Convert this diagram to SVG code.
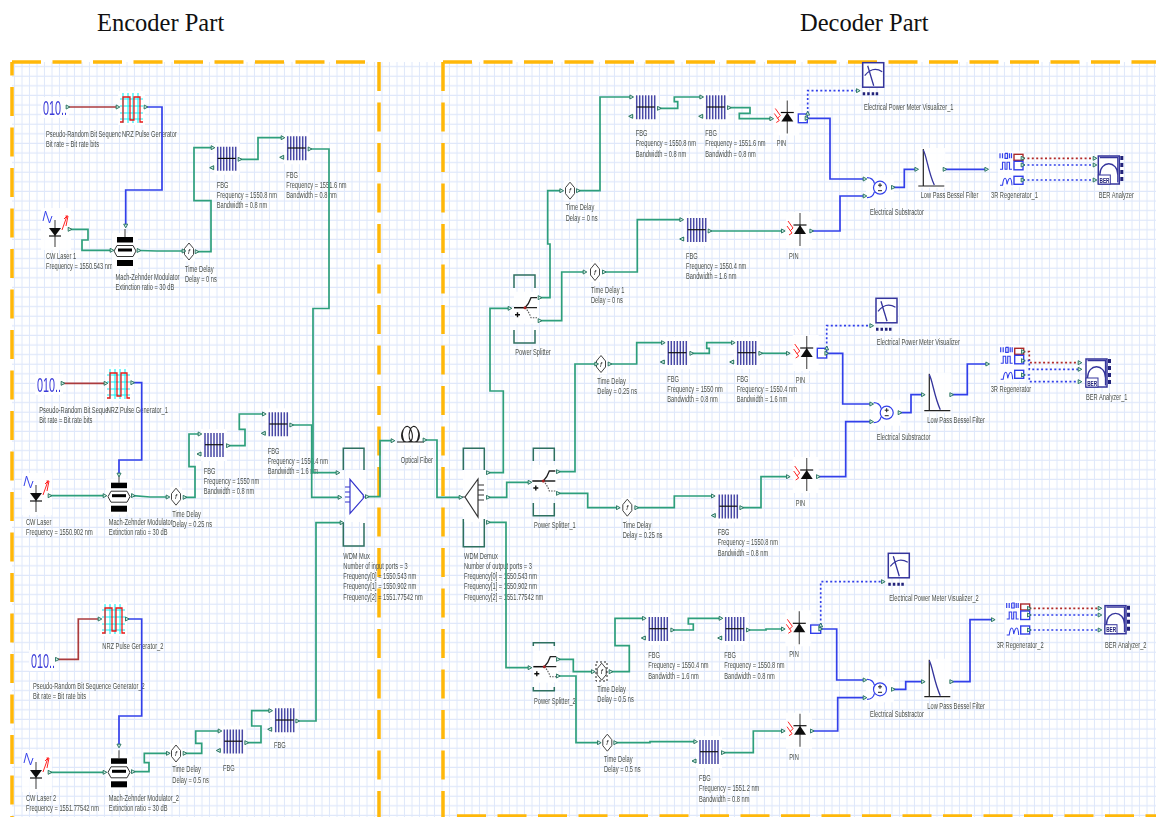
<svg xmlns="http://www.w3.org/2000/svg" width="1156" height="817" viewBox="0 0 1156 817">
<style>
.l{font:9.5px "Liberation Sans",Arial,sans-serif;fill:#4a4f4a}
.t{font:24.500px "Liberation Serif","Times New Roman",serif;fill:#111}
.c{fill:none;stroke-width:1.7;marker-start:url(#p);marker-end:url(#p)}
.g{stroke:#2f9f7c}.b{stroke:#3340ea}.r{stroke:#ab3a3c}
.bd{stroke:#3340ea;stroke-dasharray:2 2.4}.rd{stroke:#b22a2a;stroke-dasharray:2 2.4}
.f{fill:none;stroke:#ffb80a;stroke-width:3.5;stroke-dasharray:29 11.5}
.h{fill:#fff;opacity:.85}
.br{fill:none;stroke:#2f6f60;stroke-width:1.5}
.nv{fill:none;stroke:#34349c;stroke-width:1.3}
.box{fill:#fff;stroke:#3340ea;stroke-width:1.4}
</style>
<defs>
<pattern id="gr" width="7.5" height="9.6" patternUnits="userSpaceOnUse"><path d="M7 0V9.6M0 9H7.5" fill="none" stroke="#dfe8fa" stroke-width="1"/></pattern>
<filter id="soft" x="-2%" y="-2%" width="104%" height="104%"><feGaussianBlur stdDeviation="0.35"/></filter>
<marker id="p" viewBox="0 0 6 6" refX="3" refY="3" markerWidth="5.500" markerHeight="5.500" markerUnits="userSpaceOnUse" orient="auto"><path d="M1 .8L5 3L1 5.2Z" fill="#cfeee2" stroke="#23705c"/></marker>
<g id="fbg"><rect class="h" x="-4" y="-4" width="26" height="32"/><path d="M0 0V24M3 0V24M6 0V24M9 0V24M12 0V24M15 0V24M18 0V24" stroke="#4a4aa6" stroke-width="1.500"/><path d="M0 11.700H18" stroke="#111" stroke-width="1.200"/><path d="M-4 19L-8 21L-4 23Z" fill="#cfeee2" stroke="#23705c"/></g>
<g id="laser"><rect class="h" x="-14" y="-28" width="30" height="42"/><path d="M-12 -15L-9.500 -25L-5.500 -13L-3 -20" fill="none" stroke="#3340ea"/><path d="M0 -16V11" stroke="#666" stroke-width="1.300"/><path d="M-6 -8H6L0 0Z" fill="#111"/><path d="M-6 0H6" stroke="#111" stroke-width="1.200"/><path d="M7 -6L12 -20M11 -10L13 -20M12 -20L9 -17M13 -20L10.500 -20" fill="none" stroke="#f22" stroke-width="1"/></g>
<g id="mzm"><rect class="h" x="-13" y="-18" width="26" height="36"/><path d="M0 -22V-14" stroke="#666" stroke-width="1.300"/><rect x="-8" y="-14" width="16" height="5.500"/><path d="M-11 0L-8 -5.500H8L11 0L8 5.500H-8Z" fill="#fff" stroke="#333"/><rect x="-7" y="-2.500" width="14" height="3"/><rect x="-8" y="9" width="16" height="6"/></g>
<g id="delay"><rect class="h" x="-6" y="-10" width="12" height="20"/><path d="M0 -8.500L4.500 -3V3L0 8.500L-4.500 3V-3Z" fill="#fff" stroke="#444"/><text x="-1" y="2.500" style="font:italic 7px 'Liberation Sans',sans-serif;fill:#222">f</text></g>
<g id="prbs"><rect class="h" x="-2" y="-18" width="28" height="21"/><text transform="scale(.54 1)" style="font:20px 'Liberation Sans',sans-serif;fill:#3a3ad8">010..</text></g>
<g id="nrz"><rect class="h" x="-2" y="-2" width="27" height="34"/><path d="M3 0V30M8 0V30M13 0V30M18 0V30M0 6H23M0 13H23M0 20H23M0 26H23" stroke="#12eef6" stroke-width="1.100"/><path d="M0 29H3V4H10V27H14V4H20V29H23" fill="none" stroke="#e81818" stroke-width="1.300"/></g>
<g id="pin"><rect class="h" x="-14" y="-13" width="26" height="36"/><path d="M0 -12V21" stroke="#666" stroke-width="1.300"/><path d="M-6 9H6L0 0Z" fill="#111"/><path d="M-6.500 0H6.500" stroke="#111" stroke-width="1.200"/><path d="M-12 -4L-7 3L-10 6M-13 1L-8 8L-11 10" fill="none" stroke="#f22"/></g>
<g id="vis"><rect x="0" y="0" width="21" height="24.500" fill="#fff" stroke="#34349c" stroke-width="1.500"/><path class="nv" d="M2 13Q10 3 19.500 9M5 3L11 23"/><path d="M0 29.500h2.500v3h-2.500zM4.500 29.500h2.500v3h-2.500zM9 29.500h2.500v3h-2.500zM13 29.500h2.500v3h-2.500z" fill="#22227a"/></g>
<g id="sub"><rect class="h" x="-14" y="-13" width="28" height="26"/><circle r="6.500" fill="#fff" stroke="#3340ea" stroke-width="1.200"/><path d="M-13 -10Q-7 -10 -5.500 -4M-13 10Q-7 10 -5.500 4" fill="none" stroke="#3340ea" stroke-width="1.200"/><path d="M-2 -2.500H2M0 -4.500V-.5M-2 3H2" stroke="#222" stroke-width="1"/></g>
<g id="lpf"><rect class="h" x="-6" y="-38" width="28" height="40"/><path d="M0 -37V0M-5 0H21" stroke="#222" stroke-width="1.200"/><path class="nv" d="M0 -36C3 -31 5 -14 11 -1"/></g>
<g id="regen"><rect class="h" x="-2" y="-2" width="26" height="36"/><path d="M0 0V5M2.500 0V5M5 0V5h2.500V0H5M9.500 0V5M11.500 0V5" fill="none" stroke="#3340ea" stroke-width="1.200"/><path d="M0 16H2.500V9H5V16H7V9H9.500V16H12M0 32H2.500Q3.500 25 5 25T7 31Q8.500 25 10 25T12 32" fill="none" stroke="#3340ea" stroke-width="1.100"/><rect x="14" y="1" width="9" height="6" fill="#fff" stroke="#ab2a2c" stroke-width="1.400"/><rect class="box" x="14" y="8" width="9" height="8.500"/><rect class="box" x="14" y="23" width="9" height="8"/></g>
<g id="ber"><rect x="0" y="0" width="21" height="28" fill="#fff" stroke="#34349c" stroke-width="1.500"/><path class="nv" d="M1.500 19C1.500 4 19.500 4 19.500 19M1.500 1.500H19.500V26.500"/><rect x="0" y="19" width="12" height="9" fill="#fff" stroke="#34349c"/><text x="1.200" y="26.500" textLength="10" lengthAdjust="spacingAndGlyphs" style="font:bold 7px 'Liberation Sans',sans-serif;fill:#22227a">BER</text><path d="M22 0h3v4h-3zM22 7h3v4h-3zM22 14h3v4h-3zM22 21h3v4h-3z" fill="#22227a"/></g>
<g id="split"><rect class="h" x="-11" y="-16" width="25" height="32"/><path d="M-11 0H0" stroke="#111" stroke-width="1.500"/><path d="M0 0Q4 -4 6 -10H12M0 0H12" fill="none" stroke="#222" stroke-width="1.300"/><path d="M0 0Q4 4 6 10H12" fill="none" stroke="#555" stroke-width="1.100" stroke-dasharray="1.500 1.200"/><circle r="1.500" fill="#a22"/><path d="M-10 7H-5M-7.500 4.500V9.500" stroke="#111" stroke-width="1.400"/></g>
</defs>
<rect width="1156" height="817" fill="#fff"/>
<rect x="12" y="62" width="1144" height="755" fill="url(#gr)"/>
<g id="frames">
<path class="f" d="M12 62H368"/>
<path class="f" d="M12 62V817" stroke-dashoffset="15.500"/>
<path class="f" d="M379 62V817"/>
<path class="f" d="M443 62H1156"/>
<path class="f" d="M443 62V817"/>
<path class="f" d="M457 816H1156"/>
</g>
<text class="t" x="97" y="31">Encoder Part</text>
<text class="t" x="800" y="31">Decoder Part</text>
<g filter="url(#soft)">
<g id="nodes">
<g id="prbs1"><use href="#prbs" transform="translate(43 115)"/><text class="l" transform="translate(46 136.500) scale(.6 1)"><tspan x="0">Pseudo-Random Bit Sequenc</tspan><tspan x="0" dy="10.400">Bit rate = Bit rate bits</tspan></text></g>
<g id="nrz1"><use href="#nrz" transform="translate(120 93)"/><text class="l" transform="translate(122 136.500) scale(.6 1)">NRZ Pulse Generator</text></g>
<g id="laser1"><use href="#laser" transform="translate(55 236)"/><text class="l" transform="translate(46 258.500) scale(.6 1)"><tspan x="0">CW Laser 1</tspan><tspan x="0" dy="10.400">Frequency = 1550.543 nm</tspan></text></g>
<g id="mzm1"><use href="#mzm" transform="translate(125 251)"/><text class="l" transform="translate(115.500 279.500) scale(.6 1)"><tspan x="0">Mach-Zehnder Modulator</tspan><tspan x="0" dy="10.400">Extinction ratio = 30 dB</tspan></text></g>
<g id="td1"><use href="#delay" transform="translate(189 251.500)"/><text class="l" transform="translate(185 271.500) scale(.6 1)"><tspan x="0">Time Delay</tspan><tspan x="0" dy="10.400">Delay = 0 ns</tspan></text></g>
<g id="fbg1"><use href="#fbg" transform="translate(217.700 146.700)"/><text class="l" transform="translate(216.700 187.500) scale(.6 1)"><tspan x="0">FBG</tspan><tspan x="0" dy="10.400">Frequency = 1550.8 nm</tspan><tspan x="0" dy="10.400">Bandwidth = 0.8 nm</tspan></text></g>
<g id="fbg2"><use href="#fbg" transform="translate(287.700 136.300)"/><text class="l" transform="translate(286.300 177.500) scale(.6 1)"><tspan x="0">FBG</tspan><tspan x="0" dy="10.400">Frequency = 1551.6 nm</tspan><tspan x="0" dy="10.400">Bandwidth = 0.8 nm</tspan></text></g>

<g id="prbs2"><use href="#prbs" transform="translate(37 392)"/><text class="l" transform="translate(39.300 412.500) scale(.6 1)"><tspan x="0">Pseudo-Random Bit Seque</tspan><tspan x="0" dy="10.400">Bit rate = Bit rate bits</tspan></text></g>
<g id="nrz2"><use href="#nrz" transform="translate(107 369)"/><text class="l" transform="translate(106.700 412.500) scale(.6 1)">NRZ Pulse Generator_1</text></g>
<g id="laser2"><use href="#laser" transform="translate(36 501)"/><text class="l" transform="translate(26 525) scale(.6 1)"><tspan x="0">CW Laser</tspan><tspan x="0" dy="10.400">Frequency = 1550.902 nm</tspan></text></g>
<g id="mzm2"><use href="#mzm" transform="translate(119 496.700)"/><text class="l" transform="translate(108.700 525) scale(.6 1)"><tspan x="0">Mach-Zehnder Modulator</tspan><tspan x="0" dy="10.400">Extinction ratio = 30 dB</tspan></text></g>
<g id="td2"><use href="#delay" transform="translate(176 496.700)"/><text class="l" transform="translate(172.300 517) scale(.6 1)"><tspan x="0">Time Delay</tspan><tspan x="0" dy="10.400">Delay = 0.25 ns</tspan></text></g>
<g id="fbg3"><use href="#fbg" transform="translate(205 433)"/><text class="l" transform="translate(203.700 473.500) scale(.6 1)"><tspan x="0">FBG</tspan><tspan x="0" dy="10.400">Frequency = 1550 nm</tspan><tspan x="0" dy="10.400">Bandwidth = 0.8 nm</tspan></text></g>
<g id="fbg4"><use href="#fbg" transform="translate(269.300 412.300)"/><text class="l" transform="translate(267.700 453.500) scale(.6 1)"><tspan x="0">FBG</tspan><tspan x="0" dy="10.400">Frequency = 1550.4 nm</tspan><tspan x="0" dy="10.400">Bandwidth = 1.6 nm</tspan></text></g>

<g id="prbs3"><use href="#prbs" transform="translate(31 668)"/><text class="l" transform="translate(33 689) scale(.6 1)"><tspan x="0">Pseudo-Random Bit Sequence Generator_2</tspan><tspan x="0" dy="10.400">Bit rate = Bit rate bits</tspan></text></g>
<g id="nrz3"><use href="#nrz" transform="translate(102 604)"/><text class="l" transform="translate(102.300 648.500) scale(.6 1)">NRZ Pulse Generator_2</text></g>
<g id="laser3"><use href="#laser" transform="translate(36 778)"/><text class="l" transform="translate(26 801) scale(.6 1)"><tspan x="0">CW Laser 2</tspan><tspan x="0" dy="10.400">Frequency = 1551.77542 nm</tspan></text></g>
<g id="mzm3"><use href="#mzm" transform="translate(119 772.300)"/><text class="l" transform="translate(108.700 801) scale(.6 1)"><tspan x="0">Mach-Zehnder Modulator_2</tspan><tspan x="0" dy="10.400">Extinction ratio = 30 dB</tspan></text></g>
<g id="td3"><use href="#delay" transform="translate(176 753.500)"/><text class="l" transform="translate(172.300 772) scale(.6 1)"><tspan x="0">Time Delay</tspan><tspan x="0" dy="11">Delay = 0.5 ns</tspan></text></g>
<g id="fbg5"><use href="#fbg" transform="translate(224.300 729.500)"/><text class="l" transform="translate(223 771) scale(.6 1)">FBG</text></g>
<g id="fbg6"><use href="#fbg" transform="translate(275.700 708.300)"/><text class="l" transform="translate(274 748) scale(.6 1)">FBG</text></g>

<g id="mux"><rect class="h" x="346" y="470" width="20" height="52"/><path class="br" d="M343.300 470V448.300H364V470M343.300 523V546H364V523"/><path d="M350 479.300L363.300 495V498.300L350 513.300ZM345 487H350M345 492H350M345 497H350M345 502H350M363.300 497H366" fill="none" stroke="#3333cc" stroke-width="1.200"/><text class="l" transform="translate(343.300 558.500) scale(.6 1)"><tspan x="0">WDM Mux</tspan><tspan x="0" dy="10.300">Number of input ports = 3</tspan><tspan x="0" dy="10.300">Frequency[0] = 1550.543 nm</tspan><tspan x="0" dy="10.300">Frequency[1] = 1550.902 nm</tspan><tspan x="0" dy="10.300">Frequency[2] = 1551.77542 nm</tspan></text></g>
<g id="fiber"><rect class="h" x="399" y="423" width="23" height="22"/><path d="M404 442C399 428 408 422 411 430C414 438 412 442 407 442C402 442 400 436 403 430M417 442C422 428 413 422 410 430C408 436 409 442 414 442C419 442 421 436 418 430M397 442H424" fill="none" stroke="#222" stroke-width="1.100"/><text class="l" transform="translate(400.700 462.500) scale(.6 1)">Optical Fiber</text></g>
<g id="demux"><rect class="h" x="463" y="470" width="24" height="52"/><path class="br" d="M463.300 470V448.300H484.300V470M463.300 519V546.700H484.300V519"/><path d="M465 497L478 479V517ZM478 485H484M478 490H484M478 495H484M478 500H484M462 497H465" fill="none" stroke="#333" stroke-width="1.200"/><text class="l" transform="translate(464 558.500) scale(.6 1)"><tspan x="0">WDM Demux</tspan><tspan x="0" dy="10.300">Number of output ports = 3</tspan><tspan x="0" dy="10.300">Frequency[0] = 1550.543 nm</tspan><tspan x="0" dy="10.300">Frequency[1] = 1550.902 nm</tspan><tspan x="0" dy="10.300">Frequency[2] = 1551.77542 nm</tspan></text></g>

<g id="split1"><path class="br" d="M514 288V275H535V288M514 330V343H535V330"/><use href="#split" transform="translate(525 307.700)"/><text class="l" transform="translate(515.300 355) scale(.6 1)">Power Splitter</text></g>
<g id="td4"><use href="#delay" transform="translate(570 190.700)"/><text class="l" transform="translate(565.700 210) scale(.6 1)"><tspan x="0">Time Delay</tspan><tspan x="0" dy="10.800">Delay = 0 ns</tspan></text></g>
<g id="fbg7"><use href="#fbg" transform="translate(636.700 95.300)"/><text class="l" transform="translate(635.700 136) scale(.6 1)"><tspan x="0">FBG</tspan><tspan x="0" dy="10.400">Frequency = 1550.8 nm</tspan><tspan x="0" dy="10.400">Bandwidth = 0.8 nm</tspan></text></g>
<g id="fbg8"><use href="#fbg" transform="translate(706.700 95.300)"/><text class="l" transform="translate(705.300 136) scale(.6 1)"><tspan x="0">FBG</tspan><tspan x="0" dy="10.400">Frequency = 1551.6 nm</tspan><tspan x="0" dy="10.400">Bandwidth = 0.8 nm</tspan></text></g>
<g id="pin1"><use href="#pin" transform="translate(787.300 112.500)"/><rect class="box" x="798.300" y="114" width="9" height="8.700"/><text class="l" transform="translate(776.700 146) scale(.6 1)">PIN</text></g>
<g id="vis1"><use href="#vis" transform="translate(862.700 62.700)"/><text class="l" transform="translate(864 109.500) scale(.6 1)">Electrical Power Meter Visualizer_1</text></g>
<g id="td5"><use href="#delay" transform="translate(595 272)"/><text class="l" transform="translate(591 292.500) scale(.6 1)"><tspan x="0">Time Delay 1</tspan><tspan x="0" dy="10.500">Delay = 0 ns</tspan></text></g>
<g id="fbg9"><use href="#fbg" transform="translate(687.700 218)"/><text class="l" transform="translate(686 258.500) scale(.6 1)"><tspan x="0">FBG</tspan><tspan x="0" dy="10.400">Frequency = 1550.4 nm</tspan><tspan x="0" dy="10.400">Bandwidth = 1.6 nm</tspan></text></g>
<g id="pin2"><use href="#pin" transform="translate(800 225)"/><text class="l" transform="translate(789 258.500) scale(.6 1)">PIN</text></g>
<g id="sub1"><use href="#sub" transform="translate(880 187.700)"/><text class="l" transform="translate(870 215) scale(.6 1)">Electrical Substractor</text></g>
<g id="lpf1"><use href="#lpf" transform="translate(923.300 186)"/><text class="l" transform="translate(920.700 197.500) scale(.6 1)">Low Pass Bessel Filter</text></g>
<g id="regen1"><use href="#regen" transform="translate(1000 153.300)"/><text class="l" transform="translate(991 197.500) scale(.6 1)">3R Regenerator_1</text></g>
<g id="ber1"><use href="#ber" transform="translate(1098.300 156)"/><text class="l" transform="translate(1098.700 197.500) scale(.6 1)">BER Analyzer</text></g>

<g id="split2"><path class="br" d="M533.300 461V448.300H554.300V461M533.300 503V515.700H554.300V503"/><use href="#split" transform="translate(543.300 481)"/><text class="l" transform="translate(534 527.500) scale(.6 1)">Power Splitter_1</text></g>
<g id="td6"><use href="#delay" transform="translate(601 364)"/><text class="l" transform="translate(597.300 384) scale(.6 1)"><tspan x="0">Time Delay</tspan><tspan x="0" dy="10.500">Delay = 0.25 ns</tspan></text></g>
<g id="fbg10"><use href="#fbg" transform="translate(668.300 341)"/><text class="l" transform="translate(667.300 382) scale(.6 1)"><tspan x="0">FBG</tspan><tspan x="0" dy="10.200">Frequency = 1550 nm</tspan><tspan x="0" dy="10.200">Bandwidth = 0.8 nm</tspan></text></g>
<g id="fbg11"><use href="#fbg" transform="translate(737.700 341)"/><text class="l" transform="translate(736.700 382) scale(.6 1)"><tspan x="0">FBG</tspan><tspan x="0" dy="10.200">Frequency = 1550.4 nm</tspan><tspan x="0" dy="10.200">Bandwidth = 1.6 nm</tspan></text></g>
<g id="pin3"><use href="#pin" transform="translate(806.700 348)"/><rect class="box" x="817.300" y="348.300" width="9.400" height="9.700"/><text class="l" transform="translate(795.700 383) scale(.6 1)">PIN</text></g>
<g id="vis2"><use href="#vis" transform="translate(876 298.300)"/><text class="l" transform="translate(876.700 344.500) scale(.6 1)">Electrical Power Meter Visualizer</text></g>
<g id="td7"><use href="#delay" transform="translate(627.300 507.700)"/><text class="l" transform="translate(622.700 527.500) scale(.6 1)"><tspan x="0">Time Delay</tspan><tspan x="0" dy="10.500">Delay = 0.25 ns</tspan></text></g>
<g id="fbg12"><use href="#fbg" transform="translate(719.300 494.500)"/><text class="l" transform="translate(717.700 535) scale(.6 1)"><tspan x="0">FBG</tspan><tspan x="0" dy="10.300">Frequency = 1550.8 nm</tspan><tspan x="0" dy="10.300">Bandwidth = 0.8 nm</tspan></text></g>
<g id="pin4"><use href="#pin" transform="translate(806.700 470)"/><text class="l" transform="translate(795.700 506) scale(.6 1)">PIN</text></g>
<g id="sub2"><use href="#sub" transform="translate(886.700 412.700)"/><text class="l" transform="translate(876.700 440) scale(.6 1)">Electrical Substractor</text></g>
<g id="lpf2"><use href="#lpf" transform="translate(929.300 410.700)"/><text class="l" transform="translate(927.300 423) scale(.6 1)">Low Pass Bessel Filter</text></g>
<g id="regen2"><use href="#regen" transform="translate(1000.700 347.300)"/><text class="l" transform="translate(990.700 392) scale(.6 1)">3R Regenerator</text></g>
<g id="ber2"><use href="#ber" transform="translate(1086 359)"/><text class="l" transform="translate(1086 399.500) scale(.6 1)">BER Analyzer_1</text></g>

<g id="split3"><path class="br" d="M533.300 646V642.700H554.300V646M533.300 687V690.700H554.300V687"/><use href="#split" transform="translate(544.300 666.700)"/><text class="l" transform="translate(534 703.500) scale(.6 1)">Power Splitter_2</text></g>
<g id="td8"><use href="#delay" transform="translate(601.700 671.700)"/><path d="M596 662H607V681H596Z" fill="none" stroke="#222" stroke-dasharray="2 2"/><text class="l" transform="translate(597.300 692) scale(.6 1)"><tspan x="0">Time Delay</tspan><tspan x="0" dy="10.200">Delay = 0.5 ns</tspan></text></g>
<g id="fbg13"><use href="#fbg" transform="translate(649.300 617)"/><text class="l" transform="translate(648.300 658) scale(.6 1)"><tspan x="0">FBG</tspan><tspan x="0" dy="10.500">Frequency = 1550.4 nm</tspan><tspan x="0" dy="10.500">Bandwidth = 1.6 nm</tspan></text></g>
<g id="fbg14"><use href="#fbg" transform="translate(725.700 617)"/><text class="l" transform="translate(724.300 658) scale(.6 1)"><tspan x="0">FBG</tspan><tspan x="0" dy="10.500">Frequency = 1550.8 nm</tspan><tspan x="0" dy="10.500">Bandwidth = 0.8 nm</tspan></text></g>
<g id="pin5"><use href="#pin" transform="translate(799.300 623.300)"/><rect class="box" x="810.700" y="625" width="10" height="8.300"/><text class="l" transform="translate(789.300 657) scale(.6 1)">PIN</text></g>
<g id="vis3"><use href="#vis" transform="translate(888.300 553.300)"/><text class="l" transform="translate(889.300 601) scale(.6 1)">Electrical Power Meter Visualizer_2</text></g>
<g id="td9"><use href="#delay" transform="translate(607.300 742.700)"/><text class="l" transform="translate(604 762) scale(.6 1)"><tspan x="0">Time Delay</tspan><tspan x="0" dy="10.300">Delay = 0.5 ns</tspan></text></g>
<g id="fbg15"><use href="#fbg" transform="translate(700 740)"/><text class="l" transform="translate(699 781) scale(.6 1)"><tspan x="0">FBG</tspan><tspan x="0" dy="10.300">Frequency = 1551.2 nm</tspan><tspan x="0" dy="10.300">Bandwidth = 0.8 nm</tspan></text></g>
<g id="pin6"><use href="#pin" transform="translate(800 725.700)"/><text class="l" transform="translate(789.300 760) scale(.6 1)">PIN</text></g>
<g id="sub3"><use href="#sub" transform="translate(880 689.300)"/><text class="l" transform="translate(870 717) scale(.6 1)">Electrical Substractor</text></g>
<g id="lpf3"><use href="#lpf" transform="translate(929.300 696.700)"/><text class="l" transform="translate(927.300 709) scale(.6 1)">Low Pass Bessel Filter</text></g>
<g id="regen3"><use href="#regen" transform="translate(1006.700 603)"/><text class="l" transform="translate(996.700 648) scale(.6 1)">3R Regenerator_2</text></g>
<g id="ber3"><use href="#ber" transform="translate(1105 605.700)"/><text class="l" transform="translate(1105 648) scale(.6 1)">BER Analyzer_2</text></g>
</g>
<g id="connectors">
<path class="c r" d="M68 107H118"/>
<path class="c b" d="M146 107H162V190H125.700V226"/>
<path class="c g" d="M70 229.300H88V240H82V250.300H112"/>
<path class="c g" d="M139 250.500L157 251H184"/>
<path class="c g" d="M197 251.700H211V200.700H194V147.700H213"/>
<path class="c g" d="M240 159.300H258V137.700H283"/>
<path class="c g" d="M310 149H329V308.500H313V472.700H338"/>
<path class="c r" d="M63 383.300H106"/>
<path class="c b" d="M132.700 382.700H141.700V460H119V475"/>
<path class="c g" d="M50 495.700H105"/>
<path class="c g" d="M133.300 495.700L150 497H168"/>
<path class="c g" d="M185 497.300H195V466.700H189V434H200"/>
<path class="c g" d="M228.300 445.700H245V429.300H239.300V414H264.300"/>
<path class="c g" d="M291.700 425H311.700V497.300H340"/>
<path class="c r" d="M57.300 659.300H78.300V619H100"/>
<path class="c b" d="M127.300 619H141.700V716H119V746"/>
<path class="c g" d="M50 772.300H105"/>
<path class="c g" d="M133.300 771.700H149V762.700H144.300V753.300H168.300"/>
<path class="c g" d="M185 753.300H201.700V743.300H195.700V731H220"/>
<path class="c g" d="M246.700 742.700H261V726H251.700V710.700H270.700"/>
<path class="c g" d="M297.700 721H316V522.700H342"/>
<path class="c g" d="M367.300 496.700H380V440.700H393"/>
<path class="c g" d="M425 440H437V497.300H461"/>
<path class="c g" d="M488.300 472.700H503.300V391H490V308.300H510"/>
<path class="c g" d="M488.300 497.300H506.700V482.300H530"/>
<path class="c g" d="M488.300 522.300H506V667.700H530"/>
<path class="c g" d="M540 297.700H550V244H547.700V190.700H561.700"/>
<path class="c g" d="M578.300 190.700H600V97H631.700"/>
<path class="c g" d="M659.300 108.300H677.700V101.700H674.300V97H701.700"/>
<path class="c g" d="M729.300 107.700H750V113.300H739.300V118.700H771.700"/>
<path class="c b" d="M807 118.300H830V179H865"/>
<path class="c bd" d="M807.700 113.300V90.700H858.300"/>
<path class="c g" d="M540 320.700H561.700V272H585"/>
<path class="c g" d="M604.300 272H637.300V219.700H681.700"/>
<path class="c g" d="M710 231H783.300"/>
<path class="c b" d="M811.700 231H840V196H865"/>
<path class="c b" d="M893.300 187.300H904.300V169.300H916.700"/>
<path class="c b" d="M945 169.300H986.700"/>
<path class="c rd" d="M1023 158.300H1095"/>
<path class="c bd" d="M1023 165H1095"/>
<path class="c bd" d="M1023 180H1095"/>
<path class="c g" d="M558.300 471.700H575V364H596.700"/>
<path class="c g" d="M610 364H636.700V342.700H663.300"/>
<path class="c g" d="M691.700 353.300H709.300V348.300H706.700V342.700H733.300"/>
<path class="c g" d="M760.700 353.300H788.300"/>
<path class="c b" d="M826.700 353.300H842.700V404H871.700"/>
<path class="c bd" d="M826.700 348V325.700H871.700"/>
<path class="c g" d="M558.300 493.300H587.700V507.700H618.300"/>
<path class="c g" d="M636.700 507.700H674.300V496H713.300"/>
<path class="c g" d="M741.700 507.700H761V476.700H788.300"/>
<path class="c b" d="M818.300 476.700H845.700V421.700H871.700"/>
<path class="c b" d="M900 412.700H911V394.700H923.300"/>
<path class="c b" d="M951.700 394.700H967.300V364H987.700"/>
<path class="c rd" d="M1023.300 351.700H1029.300V362.700H1080"/>
<path class="c bd" d="M1023.300 360.700H1029.300V369.300H1080"/>
<path class="c bd" d="M1023.300 375H1029.300V381.700H1080"/>
<path class="c g" d="M558.300 659.300H573.300V671.700H593.300"/>
<path class="c g" d="M611 671.700H629.300V645.700H615V618.300H644.300"/>
<path class="c g" d="M672.700 630H693.300V624H688.300V618.300H721"/>
<path class="c g" d="M748.300 630H766V629H783.300"/>
<path class="c b" d="M820.700 629H836.700V680H865"/>
<path class="c bd" d="M820.700 625V581.700H883.300"/>
<path class="c g" d="M558.300 676H576V742.700H599.300"/>
<path class="c g" d="M615.700 742.700H650V741.700H695.700"/>
<path class="c g" d="M723.300 752.700H753.300V731H783.300"/>
<path class="c b" d="M812.300 731H837.700V697.700H865"/>
<path class="c b" d="M893.300 689.300H905.700V681.700H923.300"/>
<path class="c b" d="M951.700 681.700H970V619.700H993.300"/>
<path class="c rd" d="M1029.300 608.300H1100"/>
<path class="c bd" d="M1029.300 615H1100"/>
<path class="c bd" d="M1029.300 630H1100"/>
</g>
</g>
</svg>
